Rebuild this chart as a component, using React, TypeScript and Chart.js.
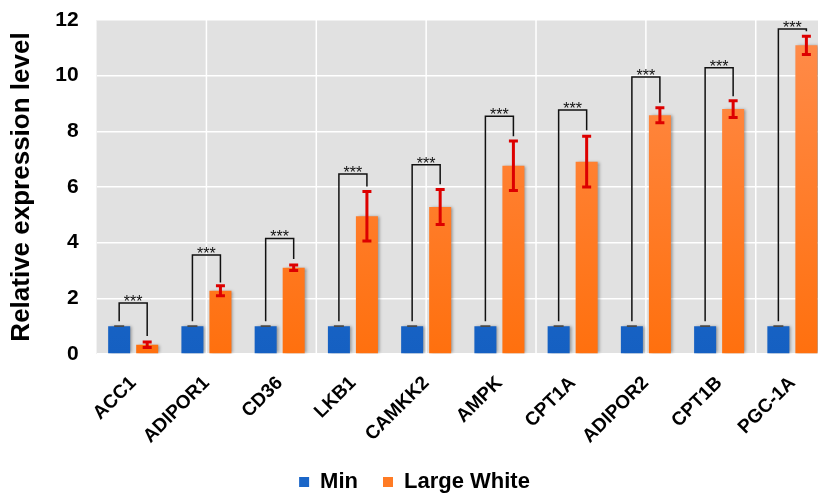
import React, { useEffect, useRef } from 'react';
import { Chart, registerables } from 'chart.js';

Chart.register(...registerables);

const categories = ['ACC1', 'ADIPOR1', 'CD36', 'LKB1', 'CAMKK2', 'AMPK', 'CPT1A', 'ADIPOR2', 'CPT1B', 'PGC-1A'];
const seriesNames = ['Min', 'Large White'];
const minValues = [1, 1, 1, 1, 1, 1, 1, 1, 1, 1];
const minErrors = [0.01, 0.01, 0.01, 0.01, 0.01, 0.01, 0.01, 0.01, 0.01, 0.01];
const largeWhiteValues = [0.33, 2.27, 3.1, 4.95, 5.28, 6.76, 6.91, 8.58, 8.8, 11.09];
const largeWhiteErrors = [0.1, 0.18, 0.1, 0.89, 0.63, 0.89, 0.91, 0.27, 0.3, 0.33];
const bracketTops = [1.83, 3.56, 4.15, 6.47, 6.8, 8.54, 8.77, 9.95, 10.28, 11.68];
const bracketLeftEnds = [1.18, 1.18, 1.18, 1.18, 1.18, 1.18, 1.18, 1.18, 1.18, 1.18];
const bracketRightEnds = [0.65, 2.57, 3.41, 6.02, 6.1, 7.82, 8.04, 9.03, 9.26, 11.6];
const significance = ['***', '***', '***', '***', '***', '***', '***', '***', '***', '***'];
const yMin = 0;
const yMax = 12;
const yLabelStep = 2;
const verticalGridAt = [1, 2.5, 4, 5.5, 7, 8.5];

const FONT = "'Liberation Sans', Arial, sans-serif";
const BLUE = '#1a66c8';
const ORANGE = '#ff7b24';

function gradientFor(top: string, bottom: string, solid: string) {
  return (ctx: any) => {
    const area = ctx.chart.chartArea;
    if (!area) return solid;
    const g = ctx.chart.ctx.createLinearGradient(0, area.top, 0, area.bottom);
    g.addColorStop(0, top);
    g.addColorStop(1, bottom);
    return g;
  };
}

const backgroundPlugin = {
  id: 'plotBg',
  beforeDraw(chart: any) {
    const { ctx, chartArea } = chart;
    if (!chartArea) return;
    ctx.save();
    ctx.fillStyle = '#e1e1e1';
    ctx.fillRect(chartArea.left, chartArea.top, chartArea.right - chartArea.left, chartArea.bottom - chartArea.top);
    ctx.restore();
  },
  beforeDatasetsDraw(chart: any) {
    const { ctx, chartArea } = chart;
    const xs = chart.scales.x;
    ctx.save();
    ctx.strokeStyle = '#ffffff';
    ctx.lineWidth = 1.5;
    verticalGridAt.forEach((v) => {
      const px = xs.getPixelForValue(v);
      ctx.beginPath();
      ctx.moveTo(px, chartArea.top);
      ctx.lineTo(px, chartArea.bottom);
      ctx.stroke();
    });
    ctx.restore();
  },
};

const shadowPlugin = {
  id: 'barShadow',
  beforeDatasetDraw(chart: any) {
    const ctx = chart.ctx;
    ctx.save();
    ctx.shadowColor = 'rgba(0,0,0,0.35)';
    ctx.shadowOffsetX = 2;
    ctx.shadowOffsetY = 0;
    ctx.shadowBlur = 3;
  },
  afterDatasetDraw(chart: any) {
    chart.ctx.restore();
  },
};

const annotationPlugin = {
  id: 'errAndBrackets',
  afterDatasetsDraw(chart: any) {
    const { ctx } = chart;
    const ys = chart.scales.y;
    const m0 = chart.getDatasetMeta(0);
    const m1 = chart.getDatasetMeta(1);
    ctx.save();
    const drawErr = (x: number, v: number, e: number, color: string, lw: number, cap: number) => {
      const yt = ys.getPixelForValue(v + e);
      const yb = ys.getPixelForValue(v - e);
      ctx.strokeStyle = color;
      ctx.lineWidth = lw;
      ctx.beginPath();
      ctx.moveTo(x, yt);
      ctx.lineTo(x, yb);
      ctx.moveTo(x - cap / 2, yt);
      ctx.lineTo(x + cap / 2, yt);
      ctx.moveTo(x - cap / 2, yb);
      ctx.lineTo(x + cap / 2, yb);
      ctx.stroke();
    };
    categories.forEach((_, i) => {
      const x0 = m0.data[i].x;
      const x1 = m1.data[i].x;
      drawErr(x0, minValues[i], minErrors[i], '#4a4a4a', 1.2, 10);
      drawErr(x1, largeWhiteValues[i], largeWhiteErrors[i], '#dd0000', 3, 9);
      const yTop = ys.getPixelForValue(bracketTops[i]);
      ctx.strokeStyle = '#111111';
      ctx.lineWidth = 1.5;
      ctx.beginPath();
      ctx.moveTo(x0, ys.getPixelForValue(bracketLeftEnds[i]));
      ctx.lineTo(x0, yTop);
      ctx.lineTo(x1, yTop);
      ctx.lineTo(x1, ys.getPixelForValue(bracketRightEnds[i]));
      ctx.stroke();
      ctx.fillStyle = '#111111';
      ctx.font = `16px ${FONT}`;
      ctx.textAlign = 'center';
      ctx.textBaseline = 'alphabetic';
      ctx.fillText(significance[i], (x0 + x1) / 2, yTop + 4);
    });
    ctx.restore();
  },
};

export default function App() {
  const ref = useRef<HTMLCanvasElement | null>(null);
  useEffect(() => {
    if (!ref.current) return;
    const chart = new Chart(ref.current, {
      type: 'bar',
      data: {
        labels: categories,
        datasets: [
          {
            label: seriesNames[0],
            data: minValues,
            backgroundColor: gradientFor('#2470d2', '#1560c2', BLUE),
            barPercentage: 0.786,
            categoryPercentage: 0.765,
          },
          {
            label: seriesNames[1],
            data: largeWhiteValues,
            backgroundColor: gradientFor('#ff8c4c', '#ff700e', ORANGE),
            barPercentage: 0.786,
            categoryPercentage: 0.765,
          },
        ],
      },
      options: {
        responsive: false,
        animation: false,
        devicePixelRatio: 1,
        layout: { padding: { left: 0, right: 10, top: 20, bottom: -8 } },
        plugins: {
          tooltip: { enabled: false },
          legend: {
            position: 'bottom',
            labels: {
              font: { family: FONT, size: 22, weight: 'bold' },
              color: '#000',
              boxWidth: 10,
              boxHeight: 10,
              padding: 25,
              generateLabels: () => [
                { text: seriesNames[0], fillStyle: BLUE, strokeStyle: BLUE, lineWidth: 0, datasetIndex: 0, hidden: false },
                { text: seriesNames[1], fillStyle: ORANGE, strokeStyle: ORANGE, lineWidth: 0, datasetIndex: 1, hidden: false },
              ],
            },
          },
        },
        scales: {
          x: {
            grid: { display: false, drawTicks: false },
            border: { display: false },
            afterFit: (scale: any) => {
              scale.height = 92;
            },
            ticks: {
              font: { family: FONT, size: 19, weight: 'bold' },
              color: '#000',
              minRotation: 45,
              maxRotation: 45,
              padding: 18,
              autoSkip: false,
            },
          },
          y: {
            min: yMin,
            max: yMax,
            grid: { color: '#ffffff', lineWidth: 1.5, drawTicks: false },
            border: { display: false },
            afterFit: (scale: any) => {
              scale.paddingTop = 0;
              scale.paddingBottom = 0;
            },
            ticks: {
              stepSize: 1,
              font: { family: FONT, size: 21, weight: 'bold' },
              color: '#000',
              padding: 18,
              callback: (v: any) => (Number(v) % yLabelStep === 0 ? String(v) : ''),
            },
            title: {
              display: true,
              text: 'Relative expression level',
              font: { family: FONT, size: 26, weight: 'bold' },
              color: '#000',
              padding: { top: 6, bottom: 0 },
            },
          },
        },
      },
      plugins: [backgroundPlugin, shadowPlugin, annotationPlugin],
    } as any);
    return () => chart.destroy();
  }, []);
  return (
    <div style={{ position: 'fixed', left: 0, top: 0, width: 818, height: 495, overflow: 'hidden', background: '#fff' }}>
      <canvas ref={ref} width={839} height={495} style={{ display: 'block' }} />
    </div>
  );
}
